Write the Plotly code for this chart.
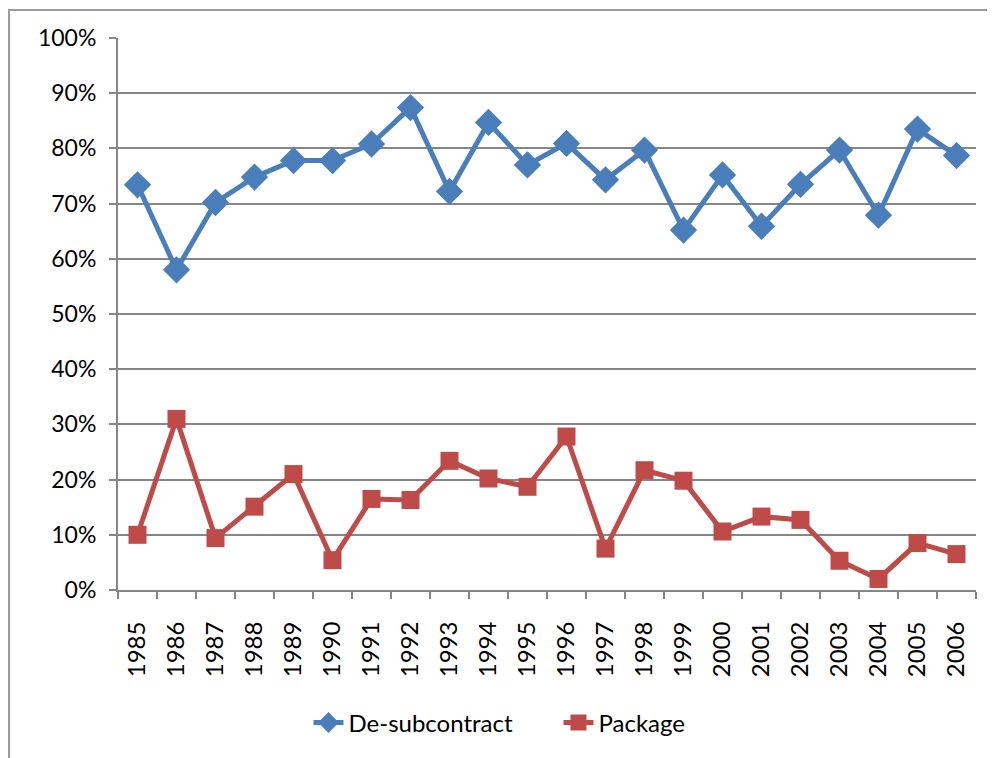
import plotly.graph_objects as go

years = [str(y) for y in range(1985, 2007)]

de_subcontract = [0.734, 0.580, 0.702, 0.748, 0.778, 0.778, 0.808, 0.874, 0.722, 0.847,
                  0.770, 0.809, 0.743, 0.797, 0.652, 0.752, 0.659, 0.735, 0.797, 0.679,
                  0.835, 0.787]
package = [0.100, 0.310, 0.094, 0.151, 0.210, 0.054, 0.165, 0.163, 0.234, 0.202,
           0.187, 0.278, 0.075, 0.217, 0.198, 0.106, 0.133, 0.127, 0.053, 0.020,
           0.085, 0.065]

blue = '#4A7EBB'
red = '#BE4B48'
grid = '#868686'

fig = go.Figure()
fig.add_trace(go.Scatter(
    x=years, y=de_subcontract, name='De-subcontract',
    mode='lines+markers',
    line=dict(color=blue, width=5),
    marker=dict(symbol='diamond', size=21, color=blue),
))
fig.add_trace(go.Scatter(
    x=years, y=package, name='Package',
    mode='lines+markers',
    line=dict(color=red, width=5),
    marker=dict(symbol='square', size=18, color=red),
))

# page body has an 8px margin, so the figure is a bit smaller than the window
fig.update_layout(
    width=987, height=750,
    margin=dict(l=110, r=19, t=30, b=160),
    paper_bgcolor='white',
    plot_bgcolor='white',
    font=dict(family='Lato, Open Sans, sans-serif', size=23, color='black'),
    showlegend=True,
    legend=dict(orientation='h', x=0.222, xanchor='left', y=-0.2, yanchor='top',
                font=dict(size=24), entrywidth=205, entrywidthmode='pixels'),
    xaxis=dict(
        type='category', range=[-0.5, 21.5],
        tickangle=-90, tickson='boundaries',
        ticks='outside', ticklen=7, tickcolor=grid, tickwidth=2,
        showline=True, linecolor=grid, linewidth=2,
        showgrid=False, tickfont=dict(size=24), ticklabelstandoff=20,
    ),
    yaxis=dict(
        range=[0, 1], dtick=0.1, tickformat='.0%',
        ticks='outside', ticklen=7, tickcolor=grid, tickwidth=2,
        showline=True, linecolor=grid, linewidth=2,
        showgrid=True, gridcolor=grid, gridwidth=2,
        zeroline=False, tickfont=dict(size=23), ticklabelstandoff=8,
    ),
    shapes=[dict(
        type='rect', xref='paper', yref='paper',
        x0=-0.127, x1=1.2, y0=-0.6, y1=1.0507,
        line=dict(color='#9a9a9a', width=2), layer='below',
    )],
)

fig.write_html("out.html")
